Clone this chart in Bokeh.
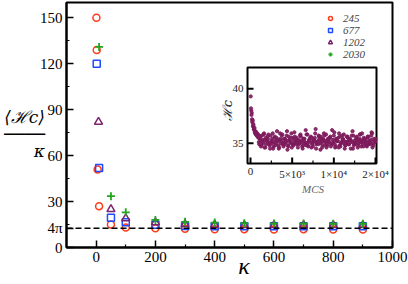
import math
import numpy as np
from bokeh.plotting import figure
from bokeh.models import (Range1d, FixedTicker, Span, Legend, LegendItem, BoxAnnotation)
from bokeh.core.properties import value
from bokeh.embed import file_html
from bokeh.resources import INLINE

# ---------------- data ----------------
kappa_245 = [1, 2, 5, 10, 50, 100, 200, 300, 400, 500, 600, 700, 800, 900]
hc_245 = [150, 129, 51, 27, 15, 13, 12.5, 12.2, 12.0, 12.0, 11.8, 12.0, 11.8, 11.8]

kappa_677 = [2, 10, 50, 100, 200, 300, 400, 500, 600, 700, 800, 900]
hc_677 = [120, 52, 19.5, 16.5, 14.8, 14.0, 13.9, 13.8, 13.8, 13.8, 13.8, 13.8]

kappa_1202 = [8, 50, 100, 200, 300, 400, 500, 600, 700, 800, 900]
hc_1202 = [82, 25, 19, 16.3, 15.2, 14.8, 14.5, 14.5, 14.5, 14.5, 14.5]

kappa_2030 = [10, 50, 100, 200, 300, 400, 500, 600, 700, 800, 900]
hc_2030 = [131, 33.5, 23, 18, 16.8, 16.3, 15.8, 15.6, 15.6, 15.5, 15.5]

four_pi = 4 * math.pi
y_ticks = [0, four_pi, 30, 60, 90, 120, 150]
y_minor = [15, 45, 75, 105, 135]
x_ticks = [0, 200, 400, 600, 800, 1000]
x_minor = [100, 300, 500, 700, 900]

# inset: time series of H_c vs MCS
mcs_early = [30, 60, 90, 120, 150, 180, 210, 240, 270, 300, 330, 360, 400, 440, 480,
             520, 560, 600, 650, 700, 750, 800, 850, 900, 950, 1000]
hc_early = [39.3, 38.2, 38.0, 37.6, 37.8, 37.2, 37.0, 36.9, 37.1, 36.6, 36.5, 36.7, 36.3,
            36.2, 36.4, 36.0, 35.9, 36.1, 35.8, 36.0, 35.7, 35.9, 35.6, 35.8, 35.5, 35.7]
hc_run_a = [35.1, 35.6, 34.8, 35.3, 35.9, 34.6, 35.2, 35.4, 34.9, 35.7,
            35.0, 34.5, 35.5, 35.2, 36.1, 34.8, 35.3, 35.0, 35.8, 34.7,
            35.4, 35.1, 34.4, 35.6, 35.2, 35.9, 34.9, 35.3, 35.0, 35.5,
            34.6, 35.2, 35.8, 35.1, 34.8, 35.4, 36.2, 35.0, 34.7, 35.3,
            35.6, 34.9, 35.2, 35.5, 34.5, 35.1, 35.7, 35.0, 35.3, 34.8,
            35.9, 35.2, 34.6, 35.4, 35.1, 35.6, 34.9, 35.3, 36.0, 34.7,
            35.2, 35.5, 34.8, 35.0, 35.7, 35.3, 34.5, 35.1, 35.6, 34.9,
            35.4, 35.2, 36.1, 34.8, 35.0, 35.5, 34.6, 35.3, 35.8, 35.1,
            34.9, 35.4, 35.2, 34.7, 35.6, 35.0, 35.3, 35.9, 34.8, 35.2]
hc_run_b = [34.9, 35.3, 35.7, 35.0, 34.6, 35.5, 35.2, 35.8, 34.8, 35.1,
            35.4, 34.7, 35.6, 35.0, 35.3, 34.5, 35.9, 35.2, 34.9, 35.4,
            35.1, 35.7, 34.8, 35.3, 35.0, 34.6, 35.5, 36.0, 35.2, 34.9,
            35.3, 35.0, 35.6, 34.7, 35.4, 35.1, 34.8, 35.8, 35.2, 35.5,
            34.6, 35.0, 35.3, 35.9, 34.9, 35.2, 35.6, 34.4, 35.1, 35.4,
            35.7, 34.8, 35.0, 35.3, 35.5, 34.7, 36.2, 35.1, 34.9, 35.4,
            35.2, 34.6, 35.6, 35.0, 35.3, 35.8, 34.8, 35.1, 35.5, 34.9,
            35.3, 35.7, 34.5, 35.2, 35.0, 35.6, 34.8, 35.4, 35.1, 35.9,
            34.7, 35.3, 35.0, 35.5, 34.9, 35.2, 35.7, 34.6, 35.4, 35.1]
hc_run_c = [35.4, 34.7, 35.1, 35.8, 35.3, 34.9, 35.6, 35.0, 34.5, 35.2,
            35.9, 35.1, 34.8, 35.5, 35.2, 34.6, 35.4, 35.7, 35.0, 34.9,
            35.3, 36.1, 34.7, 35.2, 35.5, 35.0, 34.8, 35.6, 35.1, 35.3,
            34.9, 35.7, 35.2, 34.5, 35.4, 35.0, 35.8, 34.8, 35.3, 35.1,
            35.5, 34.7, 35.2, 36.3, 35.0, 34.9, 35.4, 35.6, 34.6, 35.3,
            35.1, 35.8, 34.8, 35.2, 35.5, 34.9, 35.0, 35.7, 34.6, 35.3,
            35.2, 35.9, 34.7, 35.1, 35.4, 35.0, 34.8, 35.6, 35.2, 35.3,
            34.5, 35.1, 35.7, 34.9, 35.4, 35.2, 35.0, 35.8, 34.7, 35.3,
            35.5, 35.1, 34.8, 35.6, 35.2, 34.9, 36.0, 35.0, 35.3, 35.4]
mcs_run = np.linspace(1000, 14900, len(hc_run_a))
inset_x_ticks = [0, 5000, 10000, 15000]
inset_x_minor = [2500, 7500, 12500]
inset_x_labels = ["0", "5×10³", "1×10⁴", "2×10⁴"]
inset_y_ticks = [35, 40]
inset_y_labels = ["35", "40"]

RED, BLUE, PURPLE, GREEN, INSET = "#ff3b1a", "#1f4cff", "#7a2470", "#22a51e", "#7d1b5c"
SERIF = "Liberation Serif"

# ---------------- layout (canvas pixels -> data) ----------------
W, H = 408, 284
FL, FR, FT, FB = 66, 392, 2, 247          # frame edges in canvas pixels
X0, X1, Y0, Y1 = -100, 1000, 0, 160
sx = (FR - FL) / (X1 - X0)
sy = (FB - FT) / (Y1 - Y0)
def dx(px): return X0 + (px - FL) / sx
def dy(py): return Y0 + (FB - py) / sy

p = figure(width=W, height=H, output_backend="svg", toolbar_location=None,
           x_range=Range1d(X0, X1), y_range=Range1d(Y0, Y1),
           min_border_left=FL, min_border_right=W - FR, min_border_top=FT,
           min_border_bottom=H - FB)
p.grid.visible = False
p.outline_line_color = "black"
p.outline_line_width = 2
p.background_fill_color = "white"
p.border_fill_color = "white"

for ax in (p.xaxis[0], p.yaxis[0]):
    ax.axis_line_width = 2
    ax.major_tick_in = 7
    ax.major_tick_out = 0
    ax.minor_tick_in = 3
    ax.minor_tick_out = 0
    ax.major_tick_line_width = 1.5
    ax.minor_tick_line_width = 1.2
    ax.major_label_text_font = SERIF
    ax.major_label_text_font_size = "15px"
    ax.major_label_text_color = "black"
    ax.major_label_standoff = 4
p.xaxis.ticker = FixedTicker(ticks=x_ticks, minor_ticks=x_minor)
p.yaxis.ticker = FixedTicker(ticks=y_ticks, minor_ticks=y_minor)
p.yaxis.major_label_overrides = {four_pi: "4π"}

# axis titles
p.yaxis.axis_label = " \n⟨ℋc⟩\n────\nκ"
p.yaxis.axis_label_orientation = "horizontal"
p.yaxis.axis_label_text_font = "DejaVu Serif"
p.yaxis.axis_label_text_font_style = "italic"
p.yaxis.axis_label_text_font_size = "17px"
p.yaxis.axis_label_text_line_height = 0.85
p.yaxis.axis_label_text_color = "black"
p.yaxis.axis_label_standoff = -8

p.xaxis.axis_label = "\u2003\u2009κ"
p.xaxis.axis_label_text_font = SERIF
p.xaxis.axis_label_text_font_style = "italic"
p.xaxis.axis_label_text_font_size = "24px"
p.xaxis.axis_label_text_color = "black"
p.xaxis.axis_label_standoff = -12

p.add_layout(Span(location=four_pi, dimension="width", line_color="black",
                  line_width=1.5, line_dash="6 3"))

r1 = p.scatter(kappa_245, hc_245, marker="circle", size=7, fill_color=None,
               line_color=RED, line_width=1.5)
r2 = p.scatter(kappa_677, hc_677, marker="square", size=7, fill_color=None,
               line_color=BLUE, line_width=1.5)
r3 = p.scatter(kappa_1202, hc_1202, marker="triangle", size=8, fill_color=None,
               line_color=PURPLE, line_width=1.5)
r4 = p.scatter(kappa_2030, hc_2030, marker="cross", size=8,
               line_color=GREEN, line_width=1.8)

legend = Legend(items=[LegendItem(label="245", renderers=[r1]),
                       LegendItem(label="677", renderers=[r2]),
                       LegendItem(label="1202", renderers=[r3]),
                       LegendItem(label="2030", renderers=[r4])],
                location=(324 - FL, FB - 60), padding=0, spacing=0, margin=0,
                glyph_width=12, glyph_height=10, label_height=10, label_standoff=7,
                label_text_font=SERIF, label_text_font_style="italic",
                label_text_font_size="11px", label_text_line_height=0.85,
                border_line_alpha=0, background_fill_alpha=0)
p.add_layout(legend)

# ---------------- inset ----------------
IL, IR, IT, IB = 247, 376, 67, 163
ix0, ix1, iy0, iy1 = -360, 15120, 33.13, 41.96
p.add_layout(BoxAnnotation(left=dx(IL), right=dx(IR), bottom=dy(IB), top=dy(IT),
                           fill_color="white", fill_alpha=1, line_color="black",
                           line_alpha=1, line_width=2, level="underlay"))
sub = p.subplot(x_source=Range1d(ix0, ix1), y_source=Range1d(iy0, iy1),
                x_target=Range1d(dx(IL), dx(IR)), y_target=Range1d(dy(IB), dy(IT)))
for xs, ys in ((mcs_early, hc_early), (mcs_run, hc_run_a),
               (mcs_run + 50, hc_run_b), (mcs_run + 100, hc_run_c)):
    sub.scatter(xs, ys, size=3.2, color=INSET, alpha=0.9, marker="circle")

px_y = (iy1 - iy0) / (IB - IT)      # inset y units per pixel
px_x = (ix1 - ix0) / (IR - IL)      # inset x units per pixel
sub.segment(x0=inset_x_ticks, x1=inset_x_ticks, y0=[iy0] * 4,
            y1=[iy0 + 6 * px_y] * 4, line_color="black", line_width=2)
sub.segment(x0=inset_x_minor, x1=inset_x_minor, y0=[iy0] * 3,
            y1=[iy0 + 3 * px_y] * 3, line_color="black", line_width=1.2)
sub.segment(x0=[ix0] * 2, x1=[ix0 + 6 * px_x] * 2, y0=inset_y_ticks,
            y1=inset_y_ticks, line_color="black", line_width=2)
sub.text(x=inset_x_ticks, y=[iy0] * 4, text=inset_x_labels, y_offset=4,
         text_align="center", text_baseline="top", text_font=value(SERIF),
         text_font_size="11px", text_color="#222222")
sub.text(x=[ix0] * 2, y=inset_y_ticks, text=inset_y_labels, x_offset=-4,
         text_align="right", text_baseline="middle", text_font=value(SERIF),
         text_font_size="11px", text_color="#222222")
sub.text(x=[7500], y=[iy0], text=["MCS"], y_offset=19, text_align="center",
         text_baseline="top", text_font=value(SERIF), text_font_style="italic",
         text_font_size="11px", text_color="#666666")
sub.text(x=[ix0], y=[(35 + 40) / 2 + 0.5], text=["ℋc"], x_offset=-20, angle=math.pi / 2,
         text_align="center", text_baseline="middle", text_font=value("DejaVu Serif"),
         text_font_style="italic", text_font_size="13px", text_color="#222222")

open("out.html", "w").write(file_html(p, INLINE))
